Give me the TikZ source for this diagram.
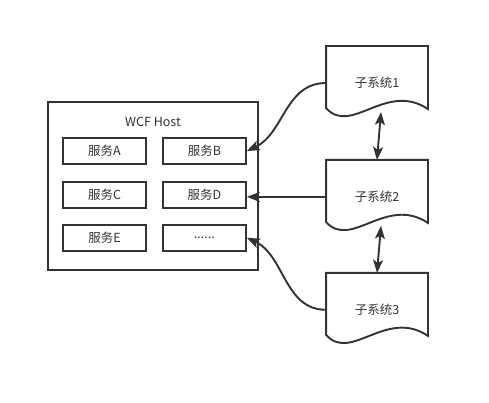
\documentclass[tikz,border=0pt]{standalone}
\usepackage{fontspec}
\setmainfont{Noto Sans CJK SC}
\usetikzlibrary{positioning, arrows.meta, calc}
\definecolor{ink}{HTML}{333333}

\begin{document}
\begin{tikzpicture}[x=1pt, y=1pt, line width=1.9pt, draw=ink, text=ink,
	font=\fontsize{12.5}{15}\selectfont,
	svc/.style={draw, rectangle, minimum width=83pt, minimum height=26pt, inner sep=0pt},
	doc/.style={rectangle, minimum width=100pt, minimum height=72pt, inner sep=0pt},
	link/.style={-{Stealth[length=13pt, width=10pt, inset=3pt]}},
	both/.style={{Stealth[length=13pt, width=10pt, inset=3pt]}-{Stealth[length=13pt, width=10pt, inset=3pt]}}]
	\useasboundingbox (0,0) rectangle (489,402);
	% WCF host with its services
	\node[draw, rectangle, minimum width=210pt, minimum height=168pt] (host) at (153,216) {};
	\node (title) at (153,280) {WCF Host};
	\node[svc] (svcA) at (104.5,251) {服务A};
	\node[svc] (svcB) [right=15pt of svcA] {服务B};
	\node[svc] (svcC) [below=16pt of svcA] {服务C};
	\node[svc] (svcD) [right=15pt of svcC] {服务D};
	\node[svc] (svcE) [below=15pt of svcC] {服务E};
	\node[svc] (svcF) [right=15pt of svcE] {......};
	% subsystems
	\node[doc] (doc1) at (377,319) {子系统1};
	\node[doc] (doc2) [below=40pt of doc1] {子系统2};
	\node[doc] (doc3) [below=39pt of doc2] {子系统3};
	\foreach \d in {doc1,doc2,doc3}
		\draw (\d.north west) -- (\d.north east) -- ($(\d.north east)+(0,-63)$)
		.. controls ($(\d.north west)+(60,-35)$) and ($(\d.north west)+(25,-90)$)
		.. ($(\d.north west)+(0,-62)$) -- cycle;
	\coordinate (w1) at ($(doc1.south)+(4,8)$);
	\coordinate (w2) at ($(doc2.south)+(4,8)$);
	\path[link]
	(doc1.west) edge [out=180, in=25] (svcB.east)
	(doc2.west) edge (doc2.west -| svcD.east)
	(doc3.west) edge [out=180, in=-25] (svcF.east)
	;
	\path[both]
	(w1) edge (doc2.north)
	(w2) edge (doc3.north)
	;
\end{tikzpicture}
\end{document}
